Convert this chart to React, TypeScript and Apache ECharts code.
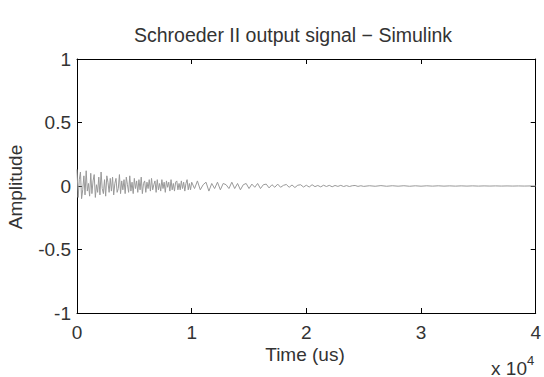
import React, { useEffect, useRef } from "react";
import * as echarts from "echarts";

const titleText = "Schroeder II output signal \u2212 Simulink";
const xAxisTitle = "Time (us)";
const yAxisTitle = "Amplitude";
const xTicks = [0, 10000, 20000, 30000, 40000];
const yTicks = [-1, -0.5, 0, 0.5, 1];

// amplitude samples
// segment A: 0 .. 9900 us, every 100 us
const stepA = 100;
const startA = 0;
const ampA = [
  0.13, -0.09, 0.05, 0.11, -0.10, -0.03, 0.08, -0.07, 0.12, -0.04,
  0.02, -0.08, 0.10, -0.06, 0.04, 0.09, -0.09, 0.01, -0.05, 0.07,
  -0.07, 0.11, -0.02, -0.06, 0.05, -0.08, 0.08, 0.03, -0.05, 0.06,
  -0.04, 0.07, -0.07, 0.02, 0.06, -0.05, -0.02, 0.09, -0.06, 0.04,
  -0.03, 0.05, -0.06, 0.07, 0.01, -0.05, 0.08, -0.04, 0.03, -0.06,
  0.06, -0.02, 0.04, -0.05, 0.05, -0.03, 0.07, -0.06, 0.02, 0.04,
  -0.05, 0.03, -0.02, 0.05, -0.04, 0.06, -0.03, 0.01, 0.04, -0.05,
  0.05, -0.03, 0.02, -0.04, 0.05, -0.02, 0.03, -0.05, 0.04, -0.01,
  0.03, -0.04, 0.05, -0.03, 0.02, -0.04, 0.03, 0.04, -0.03, 0.02,
  -0.03, 0.04, -0.02, 0.03, -0.04, 0.02, 0.05, -0.03, 0.02, -0.03,
];
// segment B: 10000 .. 24750 us, every 250 us
const stepB = 250;
const startB = 10000;
const ampB = [
  0.03, -0.02, 0.04, -0.03, 0.01, 0.03, -0.04, 0.02, -0.02, 0.03,
  -0.03, 0.02, 0.01, -0.02, 0.03, -0.02, 0.02, -0.03, 0.01, 0.02,
  -0.02, 0.015, -0.01, 0.02, -0.02, 0.01, 0.015, -0.015, 0.01, -0.01,
  0.015, -0.01, 0.005, 0.012, -0.01, 0.008, -0.012, 0.006, 0.01, -0.008,
  0.006, -0.008, 0.01, -0.005, 0.004, -0.007, 0.006, -0.004, 0.005, -0.006,
  0.004, -0.003, 0.005, -0.004, 0.003, -0.004, 0.002, 0.004, -0.003, 0.002,
];
// segment C: 25000 .. 40000 us, every 500 us
const stepC = 500;
const startC = 25000;
const ampC = [
  -0.003, 0.002, -0.002, 0.003, -0.002, 0.002, -0.0015, 0.002, -0.002, 0.0015,
  -0.0015, 0.0015, -0.001, 0.0015, -0.001, 0.001, -0.001, 0.001, -0.0008, 0.001,
  -0.0008, 0.0008, -0.0006, 0.0008, -0.0006, 0.0006, -0.0005, 0.0005, -0.0005, 0.0004,
  -0.0004,
];

export default function App() {
  const ref = useRef<HTMLDivElement>(null);
  useEffect(() => {
    if (!ref.current) return;
    const chart = echarts.init(ref.current, undefined, { renderer: "svg" });
    const data = [
      ...ampA.map((v, i) => [startA + i * stepA, v]),
      ...ampB.map((v, i) => [startB + i * stepB, v]),
      ...ampC.map((v, i) => [startC + i * stepC, v]),
    ];
    const font = "'Liberation Sans', Arial, sans-serif";
    const txt = "#333";
    const xBase = {
      type: "value" as const,
      min: xTicks[0],
      max: xTicks[xTicks.length - 1],
      interval: 10000,
      splitLine: { show: false },
      axisLine: { show: true, onZero: false, lineStyle: { color: "#000", width: 1 } },
      axisTick: { show: true, inside: true, length: 5, lineStyle: { color: "#000" } },
    };
    const yBase = {
      type: "value" as const,
      min: yTicks[0],
      max: yTicks[yTicks.length - 1],
      interval: 0.5,
      splitLine: { show: false },
      axisLine: { show: true, onZero: false, lineStyle: { color: "#000", width: 1 } },
      axisTick: { show: true, inside: true, length: 5, lineStyle: { color: "#000" } },
    };
    chart.setOption({
      animation: false,
      backgroundColor: "#fff",
      grid: { left: 77, right: 6, top: 59, bottom: 64 },
      xAxis: [
        {
          ...xBase,
          position: "bottom",
          axisLabel: {
            show: true,
            margin: 10,
            color: txt,
            fontFamily: font,
            fontSize: 19,
            formatter: (v: number) => String(v / 10000),
          },
        },
        { ...xBase, position: "top", axisLabel: { show: false } },
      ],
      yAxis: [
        {
          ...yBase,
          position: "left",
          axisLabel: { show: true, margin: 6, color: txt, fontFamily: font, fontSize: 19 },
        },
        { ...yBase, position: "right", axisLabel: { show: false } },
      ],
      graphic: [
        {
          type: "text",
          x: 293,
          y: 35,
          style: { text: titleText, fill: txt, font: `19.5px ${font}`, textAlign: "center", textVerticalAlign: "middle" },
        },
        {
          type: "text",
          x: 305,
          y: 354,
          style: { text: xAxisTitle, fill: txt, font: `19px ${font}`, textAlign: "center", textVerticalAlign: "middle" },
        },
        {
          type: "text",
          x: 15,
          y: 187,
          rotation: Math.PI / 2,
          style: { text: yAxisTitle, fill: txt, font: `19px ${font}`, textAlign: "center", textVerticalAlign: "middle" },
        },
        {
          type: "text",
          x: 527,
          y: 368,
          style: { text: "x 10", fill: txt, font: `19px ${font}`, textAlign: "right", textVerticalAlign: "middle" },
        },
        {
          type: "text",
          x: 527,
          y: 360,
          style: { text: "4", fill: txt, font: `13px ${font}`, textAlign: "left", textVerticalAlign: "middle" },
        },
      ],
      series: [
        {
          type: "line",
          xAxisIndex: 0,
          yAxisIndex: 0,
          data,
          showSymbol: false,
          lineStyle: { color: "#999", width: 1 },
          z: 1,
        },
      ],
    });
    return () => chart.dispose();
  }, []);
  return <div ref={ref} style={{ position: "fixed", left: 0, top: 0, width: 544, height: 377 }} />;
}
